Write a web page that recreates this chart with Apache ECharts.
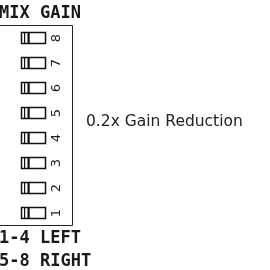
<!DOCTYPE html>
<html>
<head>
<meta charset="utf-8">
<script src="https://cdn.jsdelivr.net/npm/echarts@6/dist/echarts.min.js"></script>
<style>
  html, body { margin: 0; padding: 0; background: #fff; }
  #chart { width: 270px; height: 270px; }
</style>
</head>
<body>
<div id="chart"></div>
<script>
// switch numbers and their positions (0 = lever left / off)
var switchNums = ['1', '2', '3', '4', '5', '6', '7', '8'];
var switchStates = [0, 0, 0, 0, 0, 0, 0, 0];
var titleText = 'MIX GAIN';
var noteText = '0.2x Gain Reduction';
var footLines = ['1-4 LEFT', '5-8 RIGHT'];

var dom = document.getElementById('chart');
var myChart = echarts.init(dom);

var monoFont = 'bold 17px "DejaVu Sans Mono", "Liberation Mono", monospace';

var option = {
    animation: false,
    grid: { left: 0, right: 198, top: 25, bottom: 45, show: false },
    xAxis: { type: 'value', min: 0, max: 72, show: false },
    yAxis: { type: 'category', data: switchNums, show: false },
    series: [{
        type: 'custom',
        data: switchNums.map(function (n, i) { return [switchStates[i], n]; }),
        renderItem: function (params, api) {
            var p = api.coord([21, api.value(1)]);
            var x = Math.round(p[0]) + 0.5, cy = Math.round(p[1]);
            var w = 24, h = 11;
            var on = api.value(0) === 1;
            var lx = on ? x + w - 9 : x;
            return {
                type: 'group',
                children: [
                    { type: 'rect', shape: { x: x, y: cy - 5.5, width: w, height: h },
                      style: { fill: '#fff', stroke: '#111', lineWidth: 1.5 } },
                    { type: 'rect', shape: { x: lx + 2.5, y: cy - 5.5, width: 1.2, height: h },
                      style: { fill: '#111' } },
                    { type: 'rect', shape: { x: lx + 6, y: cy - 5.5, width: 2.2, height: h },
                      style: { fill: '#111' } },
                    { type: 'text', x: x + w + 11, y: cy, rotation: Math.PI / 2,
                      style: { text: switchNums[params.dataIndex], font: '13px "DejaVu Sans", sans-serif',
                               fill: '#222', align: 'center', verticalAlign: 'middle' } }
                ]
            };
        }
    }],
    graphic: [
        // box around the switches (left side runs off the page)
        { type: 'polyline', shape: { points: [[-2, 25.5], [72.5, 25.5], [72.5, 225.5], [-2, 225.5]] },
          style: { stroke: '#222', lineWidth: 1, fill: null } },
        { type: 'text', x: -1, y: 14, style: { text: titleText, font: monoFont, fill: '#1a1a1a', verticalAlign: 'middle' } },
        { type: 'text', x: 86, y: 122, style: { text: noteText, font: '15.5px "DejaVu Sans", sans-serif',
          fill: '#222', verticalAlign: 'middle' } },
        { type: 'text', x: -1, y: 239, style: { text: footLines[0], font: monoFont, fill: '#1a1a1a', verticalAlign: 'middle' } },
        { type: 'text', x: -1, y: 262, style: { text: footLines[1], font: monoFont, fill: '#1a1a1a', verticalAlign: 'middle' } }
    ]
};

if (option && typeof option === 'object') {
    myChart.setOption(option, true);
}
</script>
</body>
</html>
